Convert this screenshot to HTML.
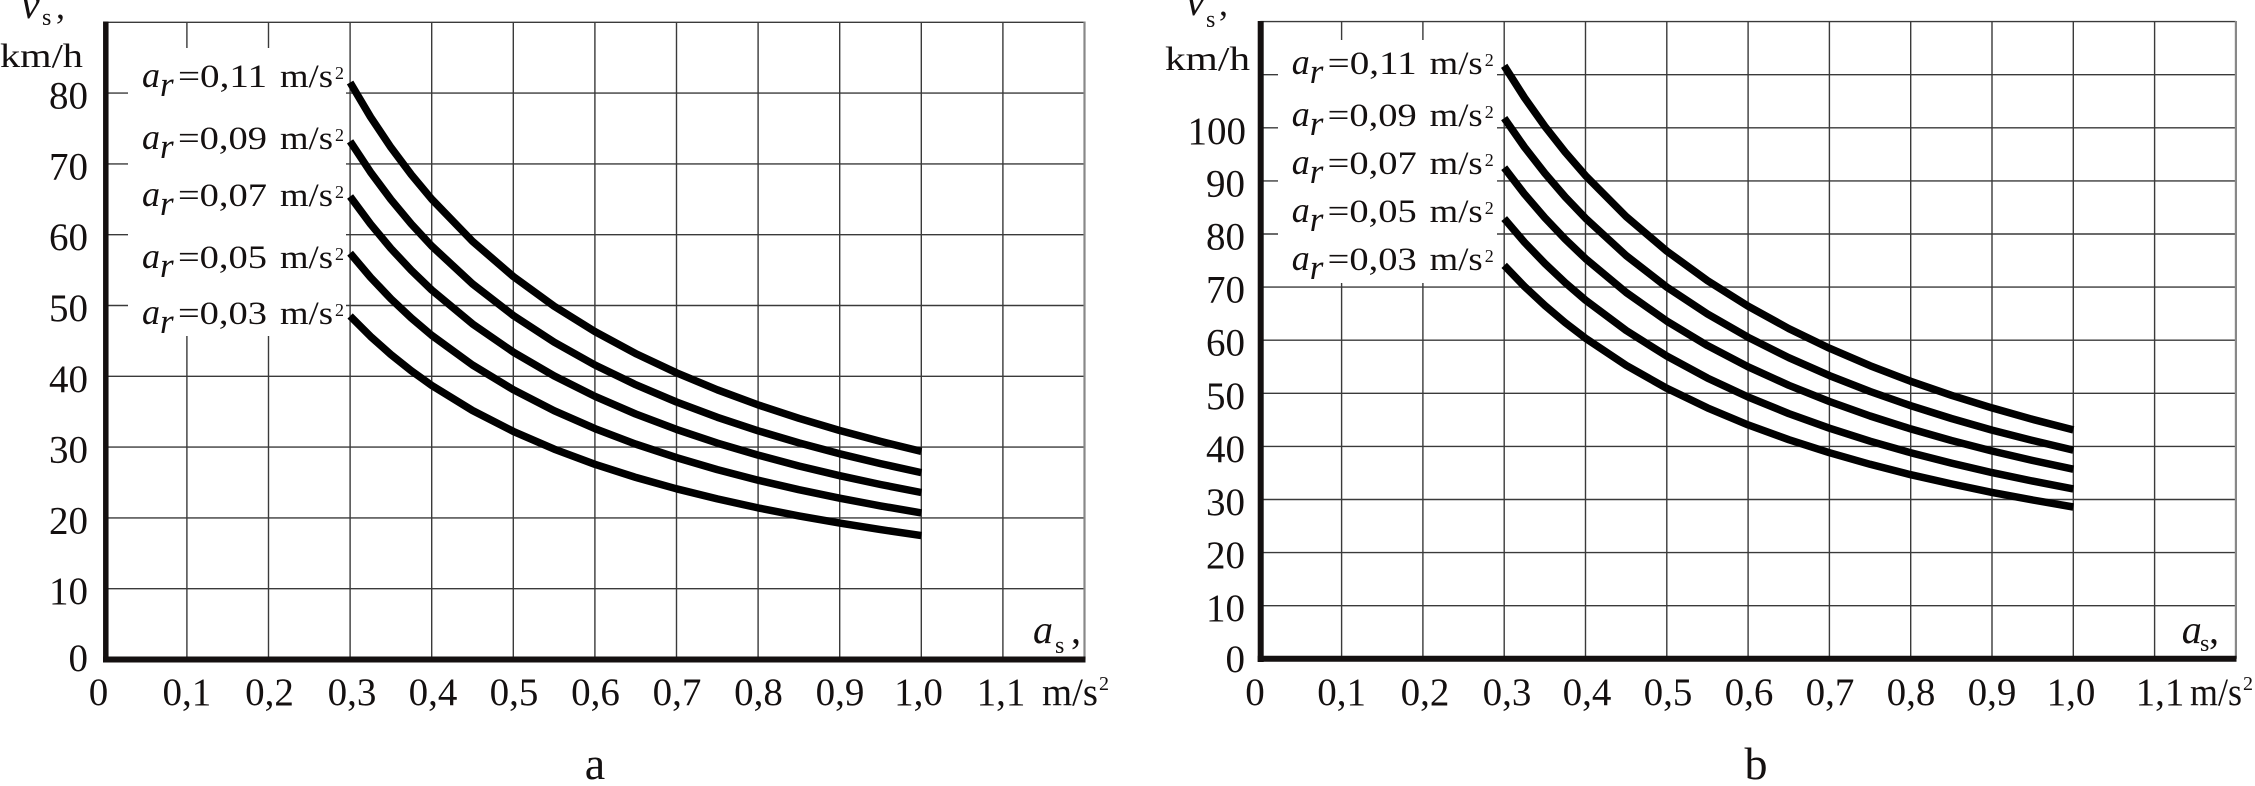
<!DOCTYPE html>
<html><head><meta charset="utf-8"><style>
html,body{margin:0;padding:0;background:#fff;}
svg{display:block;}
text{font-family:"Liberation Serif",serif;fill:#141010;}
</style></head><body>
<svg width="2255" height="786" viewBox="0 0 2255 786" xmlns="http://www.w3.org/2000/svg">
<rect width="2255" height="786" fill="#fff"/>

<!-- ===== Chart a grid ===== -->
<g stroke="#3a3a3a" stroke-width="1.4" fill="none">
<path d="M186.9 22.3V659.5M268.5 22.3V659.5M350.1 22.3V659.5M431.7 22.3V659.5M513.3 22.3V659.5M594.9 22.3V659.5M676.5 22.3V659.5M758.1 22.3V659.5M839.7 22.3V659.5M921.3 22.3V659.5M1002.9 22.3V659.5"/>
<path d="M105.3 588.7H1084.5M105.3 517.9H1084.5M105.3 447.1H1084.5M105.3 376.3H1084.5M105.3 305.5H1084.5M105.3 234.7H1084.5M105.3 163.9H1084.5M105.3 93.1H1084.5M105.3 22.3H1084.5"/>
</g>
<path d="M1084.5 21.5V659.5" stroke="#888" stroke-width="2.2" fill="none"/>
<rect x="128" y="48" width="218" height="288" fill="#fff"/>

<!-- ===== Chart b grid ===== -->
<g stroke="#3a3a3a" stroke-width="1.4" fill="none">
<path d="M1341.6 21.6V658.8M1422.9 21.6V658.8M1504.2 21.6V658.8M1585.5 21.6V658.8M1666.8 21.6V658.8M1748.1 21.6V658.8M1829.4 21.6V658.8M1910.7 21.6V658.8M1992 21.6V658.8M2073.3 21.6V658.8M2154.6 21.6V658.8"/>
<path d="M1260.3 605.7H2235.9M1260.3 552.6H2235.9M1260.3 499.5H2235.9M1260.3 446.4H2235.9M1260.3 393.3H2235.9M1260.3 340.2H2235.9M1260.3 287.1H2235.9M1260.3 234H2235.9M1260.3 180.9H2235.9M1260.3 127.8H2235.9M1260.3 74.7H2235.9M1260.3 21.6H2235.9"/>
</g>
<path d="M2235.9 21V658.8" stroke="#888" stroke-width="2.2" fill="none"/>
<rect x="1278" y="40" width="219" height="243" fill="#fff"/>

<!-- ===== Axes ===== -->
<g stroke="#141010" fill="none">
<path d="M105.8 21.5V662.5" stroke-width="5.5"/>
<path d="M103 659.5H1085.5" stroke-width="6"/>
<path d="M1260.7 21V662" stroke-width="6"/>
<path d="M1257.7 658.7H2236.5" stroke-width="6"/>
</g>

<!-- ===== Curves a ===== -->
<g stroke="#000" stroke-width="7.5" fill="none" stroke-linejoin="round" stroke-linecap="butt">
<polyline points="350.1,82.5 370.5,116.9 390.9,147.4 411.3,174.6 431.7,199.1 472.5,241.3 513.3,276.5 554.1,306.2 594.9,331.6 635.7,353.6 676.5,372.8 717.3,389.8 758.1,404.9 798.9,418.3 839.7,430.5 880.5,441.4 921.3,451.4"/>
<polyline points="350.1,141.3 370.5,172.1 390.9,199.5 411.3,224.0 431.7,246.0 472.5,283.9 513.3,315.5 554.1,342.1 594.9,365.0 635.7,384.7 676.5,402.0 717.3,417.3 758.1,430.8 798.9,442.9 839.7,453.8 880.5,463.6 921.3,472.6"/>
<polyline points="350.1,196.5 370.5,224.0 390.9,248.5 411.3,270.3 431.7,290.0 472.5,323.9 513.3,352.1 554.1,375.9 594.9,396.3 635.7,414.0 676.5,429.4 717.3,443.1 758.1,455.1 798.9,466.0 839.7,475.7 880.5,484.5 921.3,492.5"/>
<polyline points="350.1,253.2 370.5,277.3 390.9,298.8 411.3,318.0 431.7,335.3 472.5,365.0 513.3,389.7 554.1,410.7 594.9,428.6 635.7,444.1 676.5,457.6 717.3,469.6 758.1,480.2 798.9,489.7 839.7,498.2 880.5,505.9 921.3,512.9"/>
<polyline points="350.1,316.0 370.5,336.4 390.9,354.6 411.3,370.8 431.7,385.4 472.5,410.5 513.3,431.4 554.1,449.1 594.9,464.3 635.7,477.4 676.5,488.8 717.3,498.9 758.1,507.9 798.9,515.9 839.7,523.1 880.5,529.6 921.3,535.6"/>
</g>

<!-- ===== Curves b ===== -->
<g stroke="#000" stroke-width="7.5" fill="none" stroke-linejoin="round" stroke-linecap="butt">
<polyline points="1504.2,65.8 1524.5,97.7 1544.9,126.4 1565.2,152.2 1585.5,175.6 1626.2,216.6 1666.8,251.1 1707.5,280.7 1748.1,306.2 1788.8,328.6 1829.4,348.2 1870.1,365.7 1910.7,381.3 1951.4,395.3 1992.0,407.9 2032.7,419.4 2073.3,429.9"/>
<polyline points="1504.2,118.1 1524.5,147.2 1544.9,173.3 1565.2,196.9 1585.5,218.2 1626.2,255.6 1666.8,287.1 1707.5,314.0 1748.1,337.3 1788.8,357.7 1829.4,375.6 1870.1,391.5 1910.7,405.7 1951.4,418.5 1992.0,430.1 2032.7,440.5 2073.3,450.1"/>
<polyline points="1504.2,167.7 1524.5,194.1 1544.9,217.8 1565.2,239.2 1585.5,258.6 1626.2,292.5 1666.8,321.1 1707.5,345.6 1748.1,366.8 1788.8,385.3 1829.4,401.5 1870.1,416.0 1910.7,428.9 1951.4,440.5 1992.0,451.0 2032.7,460.5 2073.3,469.2"/>
<polyline points="1504.2,218.6 1524.5,242.3 1544.9,263.5 1565.2,282.7 1585.5,300.1 1626.2,330.5 1666.8,356.1 1707.5,378.1 1748.1,397.0 1788.8,413.6 1829.4,428.2 1870.1,441.2 1910.7,452.7 1951.4,463.1 1992.0,472.6 2032.7,481.1 2073.3,488.9"/>
<polyline points="1504.2,265.4 1524.5,286.5 1544.9,305.5 1565.2,322.7 1585.5,338.2 1626.2,365.4 1666.8,388.3 1707.5,407.9 1748.1,424.9 1788.8,439.7 1829.4,452.7 1870.1,464.3 1910.7,474.7 1951.4,483.9 1992.0,492.4 2032.7,500.0 2073.3,507.0"/>
</g>

<!-- ===== Chart a y tick labels ===== -->
<g font-size="39" text-anchor="end">
<text x="88" y="671">0</text>
<text x="88" y="604.2">10</text>
<text x="88" y="533.4">20</text>
<text x="88" y="462.6">30</text>
<text x="88" y="391.8">40</text>
<text x="88" y="321">50</text>
<text x="88" y="250.2">60</text>
<text x="88" y="179.4">70</text>
<text x="88" y="108.6">80</text>
</g>

<!-- ===== Chart a x tick labels ===== -->
<g font-size="39" text-anchor="middle">
<text x="98.5" y="705">0</text>
<text x="186.9" y="705">0,1</text>
<text x="269.5" y="705">0,2</text>
<text x="352" y="705">0,3</text>
<text x="433" y="705">0,4</text>
<text x="514" y="705">0,5</text>
<text x="595.5" y="705">0,6</text>
<text x="677" y="705">0,7</text>
<text x="758.5" y="705">0,8</text>
<text x="840" y="705">0,9</text>
<text x="918.5" y="705">1,0</text>
<text x="1001" y="705">1,1</text>
</g>
<text x="1042" y="705" font-size="39" textLength="56" lengthAdjust="spacingAndGlyphs">m/s</text>
<text x="1099" y="690" font-size="20">2</text>

<!-- ===== Chart b y tick labels ===== -->
<g font-size="39" text-anchor="end">
<text x="1245" y="672">0</text>
<text x="1245" y="621.2">10</text>
<text x="1245" y="568.1">20</text>
<text x="1245" y="515">30</text>
<text x="1245" y="461.9">40</text>
<text x="1245" y="408.8">50</text>
<text x="1245" y="355.7">60</text>
<text x="1245" y="302.6">70</text>
<text x="1245" y="249.5">80</text>
<text x="1245" y="196.4">90</text>
<text x="1246" y="144">100</text>
</g>

<!-- ===== Chart b x tick labels ===== -->
<g font-size="39" text-anchor="middle">
<text x="1255" y="705">0</text>
<text x="1341.6" y="705">0,1</text>
<text x="1425" y="705">0,2</text>
<text x="1507" y="705">0,3</text>
<text x="1587" y="705">0,4</text>
<text x="1668" y="705">0,5</text>
<text x="1749" y="705">0,6</text>
<text x="1830" y="705">0,7</text>
<text x="1911" y="705">0,8</text>
<text x="1992" y="705">0,9</text>
<text x="2071" y="705">1,0</text>
<text x="2160" y="705">1,1</text>
</g>
<text x="2190" y="705" font-size="39" textLength="52" lengthAdjust="spacingAndGlyphs">m/s</text>
<text x="2243" y="690" font-size="20">2</text>

<!-- ===== Axis titles chart a ===== -->
<text x="21" y="18" font-size="42" font-style="italic">v</text>
<text x="42" y="25" font-size="24">s</text>
<text x="56" y="18" font-size="36">,</text>
<text x="0" y="67" font-size="34" textLength="83" lengthAdjust="spacingAndGlyphs">km/h</text>
<text x="1033" y="643" font-size="40" font-style="italic">a</text>
<text x="1055" y="653" font-size="24">s</text>
<text x="1071" y="643" font-size="40">,</text>

<!-- ===== Axis titles chart b ===== -->
<text x="1186" y="15" font-size="42" font-style="italic">v</text>
<text x="1206" y="27" font-size="24">s</text>
<text x="1219" y="15" font-size="36">,</text>
<text x="1165" y="70" font-size="34" textLength="85" lengthAdjust="spacingAndGlyphs">km/h</text>
<text x="2181.7" y="643" font-size="40" font-style="italic">a</text>
<text x="2200" y="651" font-size="24">s</text>
<text x="2209" y="643" font-size="40">,</text>

<!-- ===== Legend chart a ===== -->
<g>
<text x="142" y="87" font-size="36" font-style="italic">a</text><text x="160" y="96" font-size="35" font-style="italic">r</text><text x="178" y="87" font-size="33" textLength="89" lengthAdjust="spacingAndGlyphs">=0,11</text><text x="280" y="87" font-size="33" textLength="53" lengthAdjust="spacingAndGlyphs">m/s</text><text x="335" y="79" font-size="18">2</text>
<text x="142" y="149" font-size="36" font-style="italic">a</text><text x="160" y="158" font-size="35" font-style="italic">r</text><text x="178" y="149" font-size="33" textLength="89" lengthAdjust="spacingAndGlyphs">=0,09</text><text x="280" y="149" font-size="33" textLength="53" lengthAdjust="spacingAndGlyphs">m/s</text><text x="335" y="141" font-size="18">2</text>
<text x="142" y="206" font-size="36" font-style="italic">a</text><text x="160" y="215" font-size="35" font-style="italic">r</text><text x="178" y="206" font-size="33" textLength="89" lengthAdjust="spacingAndGlyphs">=0,07</text><text x="280" y="206" font-size="33" textLength="53" lengthAdjust="spacingAndGlyphs">m/s</text><text x="335" y="198" font-size="18">2</text>
<text x="142" y="268" font-size="36" font-style="italic">a</text><text x="160" y="277" font-size="35" font-style="italic">r</text><text x="178" y="268" font-size="33" textLength="89" lengthAdjust="spacingAndGlyphs">=0,05</text><text x="280" y="268" font-size="33" textLength="53" lengthAdjust="spacingAndGlyphs">m/s</text><text x="335" y="260" font-size="18">2</text>
<text x="142" y="324" font-size="36" font-style="italic">a</text><text x="160" y="333" font-size="35" font-style="italic">r</text><text x="178" y="324" font-size="33" textLength="89" lengthAdjust="spacingAndGlyphs">=0,03</text><text x="280" y="324" font-size="33" textLength="53" lengthAdjust="spacingAndGlyphs">m/s</text><text x="335" y="316" font-size="18">2</text>
</g>

<!-- ===== Legend chart b ===== -->
<g>
<text x="1291.7" y="74" font-size="36" font-style="italic">a</text><text x="1309.7" y="83" font-size="35" font-style="italic">r</text><text x="1327.7" y="74" font-size="33" textLength="89" lengthAdjust="spacingAndGlyphs">=0,11</text><text x="1429.7" y="74" font-size="33" textLength="53" lengthAdjust="spacingAndGlyphs">m/s</text><text x="1484.7" y="66" font-size="18">2</text>
<text x="1291.7" y="126" font-size="36" font-style="italic">a</text><text x="1309.7" y="135" font-size="35" font-style="italic">r</text><text x="1327.7" y="126" font-size="33" textLength="89" lengthAdjust="spacingAndGlyphs">=0,09</text><text x="1429.7" y="126" font-size="33" textLength="53" lengthAdjust="spacingAndGlyphs">m/s</text><text x="1484.7" y="118" font-size="18">2</text>
<text x="1291.7" y="174" font-size="36" font-style="italic">a</text><text x="1309.7" y="183" font-size="35" font-style="italic">r</text><text x="1327.7" y="174" font-size="33" textLength="89" lengthAdjust="spacingAndGlyphs">=0,07</text><text x="1429.7" y="174" font-size="33" textLength="53" lengthAdjust="spacingAndGlyphs">m/s</text><text x="1484.7" y="166" font-size="18">2</text>
<text x="1291.7" y="222" font-size="36" font-style="italic">a</text><text x="1309.7" y="231" font-size="35" font-style="italic">r</text><text x="1327.7" y="222" font-size="33" textLength="89" lengthAdjust="spacingAndGlyphs">=0,05</text><text x="1429.7" y="222" font-size="33" textLength="53" lengthAdjust="spacingAndGlyphs">m/s</text><text x="1484.7" y="214" font-size="18">2</text>
<text x="1291.7" y="270" font-size="36" font-style="italic">a</text><text x="1309.7" y="279" font-size="35" font-style="italic">r</text><text x="1327.7" y="270" font-size="33" textLength="89" lengthAdjust="spacingAndGlyphs">=0,03</text><text x="1429.7" y="270" font-size="33" textLength="53" lengthAdjust="spacingAndGlyphs">m/s</text><text x="1484.7" y="262" font-size="18">2</text>
</g>

<!-- ===== Captions ===== -->
<text x="595" y="779" font-size="46" text-anchor="middle">a</text>
<text x="1756" y="779" font-size="46" text-anchor="middle">b</text>
</svg>
</body></html>
